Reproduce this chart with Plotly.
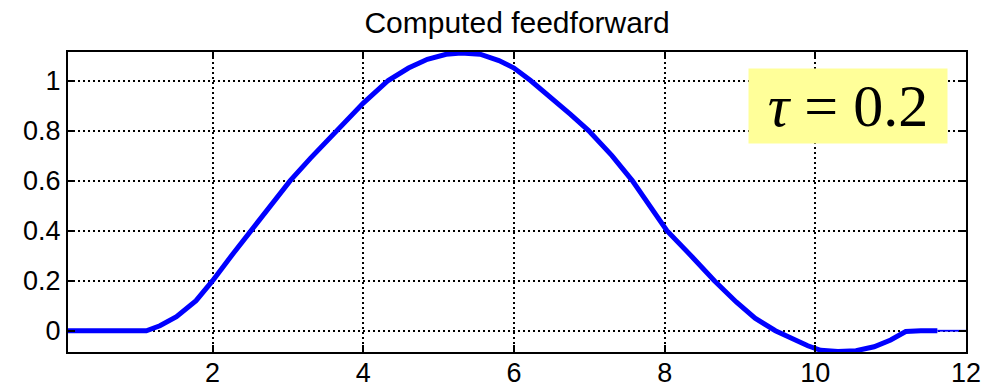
import plotly.graph_objects as go

# Feedforward signal samples (time, amplitude)
t = [0.08, 0.5, 1.0, 1.12, 1.3, 1.52, 1.78, 2.0, 2.25, 2.51, 2.75, 3.03, 3.3,
     3.65, 4.0, 4.33, 4.6, 4.85, 5.1, 5.3, 5.55, 5.8, 6.0, 6.22, 6.5, 6.75,
     6.99, 7.3, 7.57, 7.8, 8.03, 8.35, 8.66, 8.95, 9.2, 9.47, 9.7, 9.9, 10.07,
     10.3, 10.54, 10.78, 11.0, 11.2, 11.4, 11.62]
u = [0.0, 0.0, 0.0, 0.0, 0.02, 0.056, 0.12, 0.2, 0.30, 0.4, 0.49, 0.6, 0.69,
     0.8, 0.91, 1.0, 1.05, 1.085, 1.105, 1.11, 1.105, 1.08, 1.05, 1.0, 0.93,
     0.865, 0.8, 0.7, 0.6, 0.5, 0.4, 0.3, 0.2, 0.115, 0.05, 0.0, -0.035,
     -0.06, -0.078, -0.083, -0.08, -0.064, -0.037, -0.003, 0.0, 0.0]

# Trailing zero segment
t_tail = [11.62, 12.0]
u_tail = [0.0, 0.0]

x_ticks = [2, 4, 6, 8, 10, 12]
y_ticks = [0, 0.2, 0.4, 0.6, 0.8, 1]
y_tick_text = ["0", "0.2", "0.4", "0.6", "0.8", "1"]

title_text = "Computed feedforward"
tau_text = "<i>τ</i> = 0.2"

font_sans = "Liberation Sans, Arial, sans-serif"

fig = go.Figure()
fig.add_trace(go.Scatter(x=t, y=u, mode="lines",
                         line=dict(color="#0000ff", width=5),
                         showlegend=False, hoverinfo="skip"))
fig.add_trace(go.Scatter(x=t_tail, y=u_tail, mode="lines",
                         line=dict(color="#0000ff", width=1.8),
                         showlegend=False, hoverinfo="skip"))

axis_common = dict(
    showline=True, linecolor="black", linewidth=2, mirror="ticks",
    ticks="inside", ticklen=7, tickwidth=2, tickcolor="black",
    showgrid=True, gridcolor="black", gridwidth=1.5, griddash="2px,3px",
    zeroline=False, automargin=False,
    tickfont=dict(family=font_sans, size=27, color="black"),
)

fig.update_xaxes(range=[0.08, 12], tickvals=x_ticks,
                 ticktext=[str(v) for v in x_ticks], ticklabelstandoff=-4,
                 **axis_common)
fig.update_yaxes(range=[-0.085, 1.114], tickvals=y_ticks,
                 ticktext=y_tick_text, **axis_common)

fig.add_annotation(
    xref="paper", yref="paper", x=0.869, y=0.82,
    xanchor="center", yanchor="middle",
    text=tau_text, showarrow=False,
    font=dict(family="Liberation Serif, Times New Roman, serif", size=60,
              color="black"),
    bgcolor="#ffff99", width=198, height=74, borderpad=0,
)

fig.update_layout(
    width=993, height=388,
    margin=dict(l=68, r=27, t=52, b=36),
    paper_bgcolor="white", plot_bgcolor="white",
    title=dict(text=title_text, x=0.5, xref="paper", xanchor="center",
               y=1 - 22 / 388, yref="container", yanchor="middle",
               font=dict(family=font_sans, size=30, color="black")),
)

fig.write_html("out.html")
